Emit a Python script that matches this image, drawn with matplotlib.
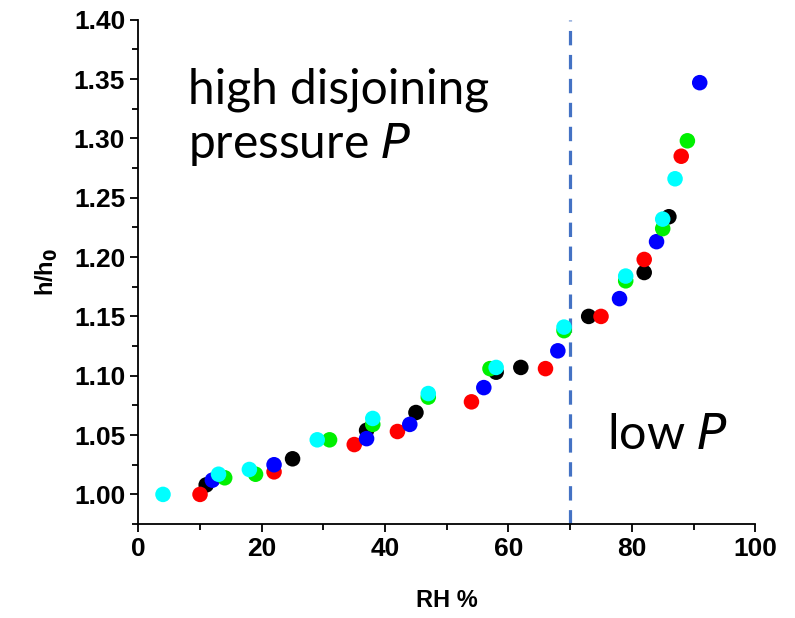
import matplotlib.pyplot as plt
from matplotlib.ticker import MultipleLocator

# --- data (RH %, h/h0) ---
rh_black = [11, 25, 37, 45, 58, 62, 73, 82, 86]
h_black = [1.008, 1.030, 1.054, 1.069, 1.103, 1.107, 1.150, 1.187, 1.234]

rh_red = [10, 22, 35, 42, 54, 66, 75, 82, 88]
h_red = [1.000, 1.019, 1.042, 1.053, 1.078, 1.106, 1.150, 1.198, 1.285]

rh_blue = [12, 22, 37, 44, 56, 68, 78, 84, 91]
h_blue = [1.012, 1.025, 1.047, 1.059, 1.090, 1.121, 1.165, 1.213, 1.347]

rh_green = [14, 19, 31, 38, 47, 57, 69, 79, 85, 89]
h_green = [1.014, 1.017, 1.046, 1.059, 1.082, 1.106, 1.138, 1.180, 1.224, 1.298]

rh_cyan = [4, 13, 18, 29, 38, 47, 58, 69, 79, 85, 87]
h_cyan = [1.000, 1.017, 1.021, 1.046, 1.064, 1.085, 1.107, 1.141, 1.184, 1.232, 1.266]

RH_SPLIT = 70

plt.rcParams['font.family'] = ['Liberation Sans', 'DejaVu Sans']

fig = plt.figure(figsize=(7.95, 6.18), dpi=100)
ax = fig.add_axes([0.174, 0.152, 0.776, 0.816])

series = [
    (rh_black, h_black, '#000000'),
    (rh_red, h_red, '#ff0000'),
    (rh_blue, h_blue, '#0000ff'),
    (rh_green, h_green, '#00f000'),
    (rh_cyan, h_cyan, '#00ffff'),
]
for i, (x, y, c) in enumerate(series):
    ax.scatter(x, y, s=125, color=c, edgecolors='none', zorder=3 + i)

ax.axvline(RH_SPLIT, color='#4472c4', linewidth=2.3, linestyle=(0, (4.5, 3)), zorder=2)

ax.set_xlim(0, 100)
ax.set_ylim(0.975, 1.40)
ax.xaxis.set_major_locator(MultipleLocator(20))
ax.xaxis.set_minor_locator(MultipleLocator(10))
ax.yaxis.set_major_locator(MultipleLocator(0.05))
ax.yaxis.set_minor_locator(MultipleLocator(0.025))
ax.yaxis.set_major_formatter(plt.FormatStrFormatter('%.2f'))

for side in ['top', 'right']:
    ax.spines[side].set_visible(False)
for side in ['left', 'bottom']:
    ax.spines[side].set_linewidth(1.3)

ax.tick_params(which='major', direction='out', length=6, width=1.3, labelsize=19)
ax.tick_params(which='minor', direction='out', length=4, width=1.3)
for lbl in ax.get_xticklabels() + ax.get_yticklabels():
    lbl.set_fontweight('bold')

ax.set_xlabel('RH %', fontsize=17, fontweight='bold', labelpad=20)
ax.set_ylabel('h/h$_\\mathbf{0}$', fontsize=17, fontweight='bold', labelpad=10)

ax.text(8, 1.36, 'high disjoining\npressure $\\mathit{P}$', fontsize=34.5,
        family=['Lato', 'DejaVu Sans'], va='top', ha='left', linespacing=1.25)
ax.text(76, 1.05, 'low $\\mathit{P}$', fontsize=35,
        family=['Lato', 'DejaVu Sans'], va='center', ha='left')

plt.savefig('out.png', dpi=100)
